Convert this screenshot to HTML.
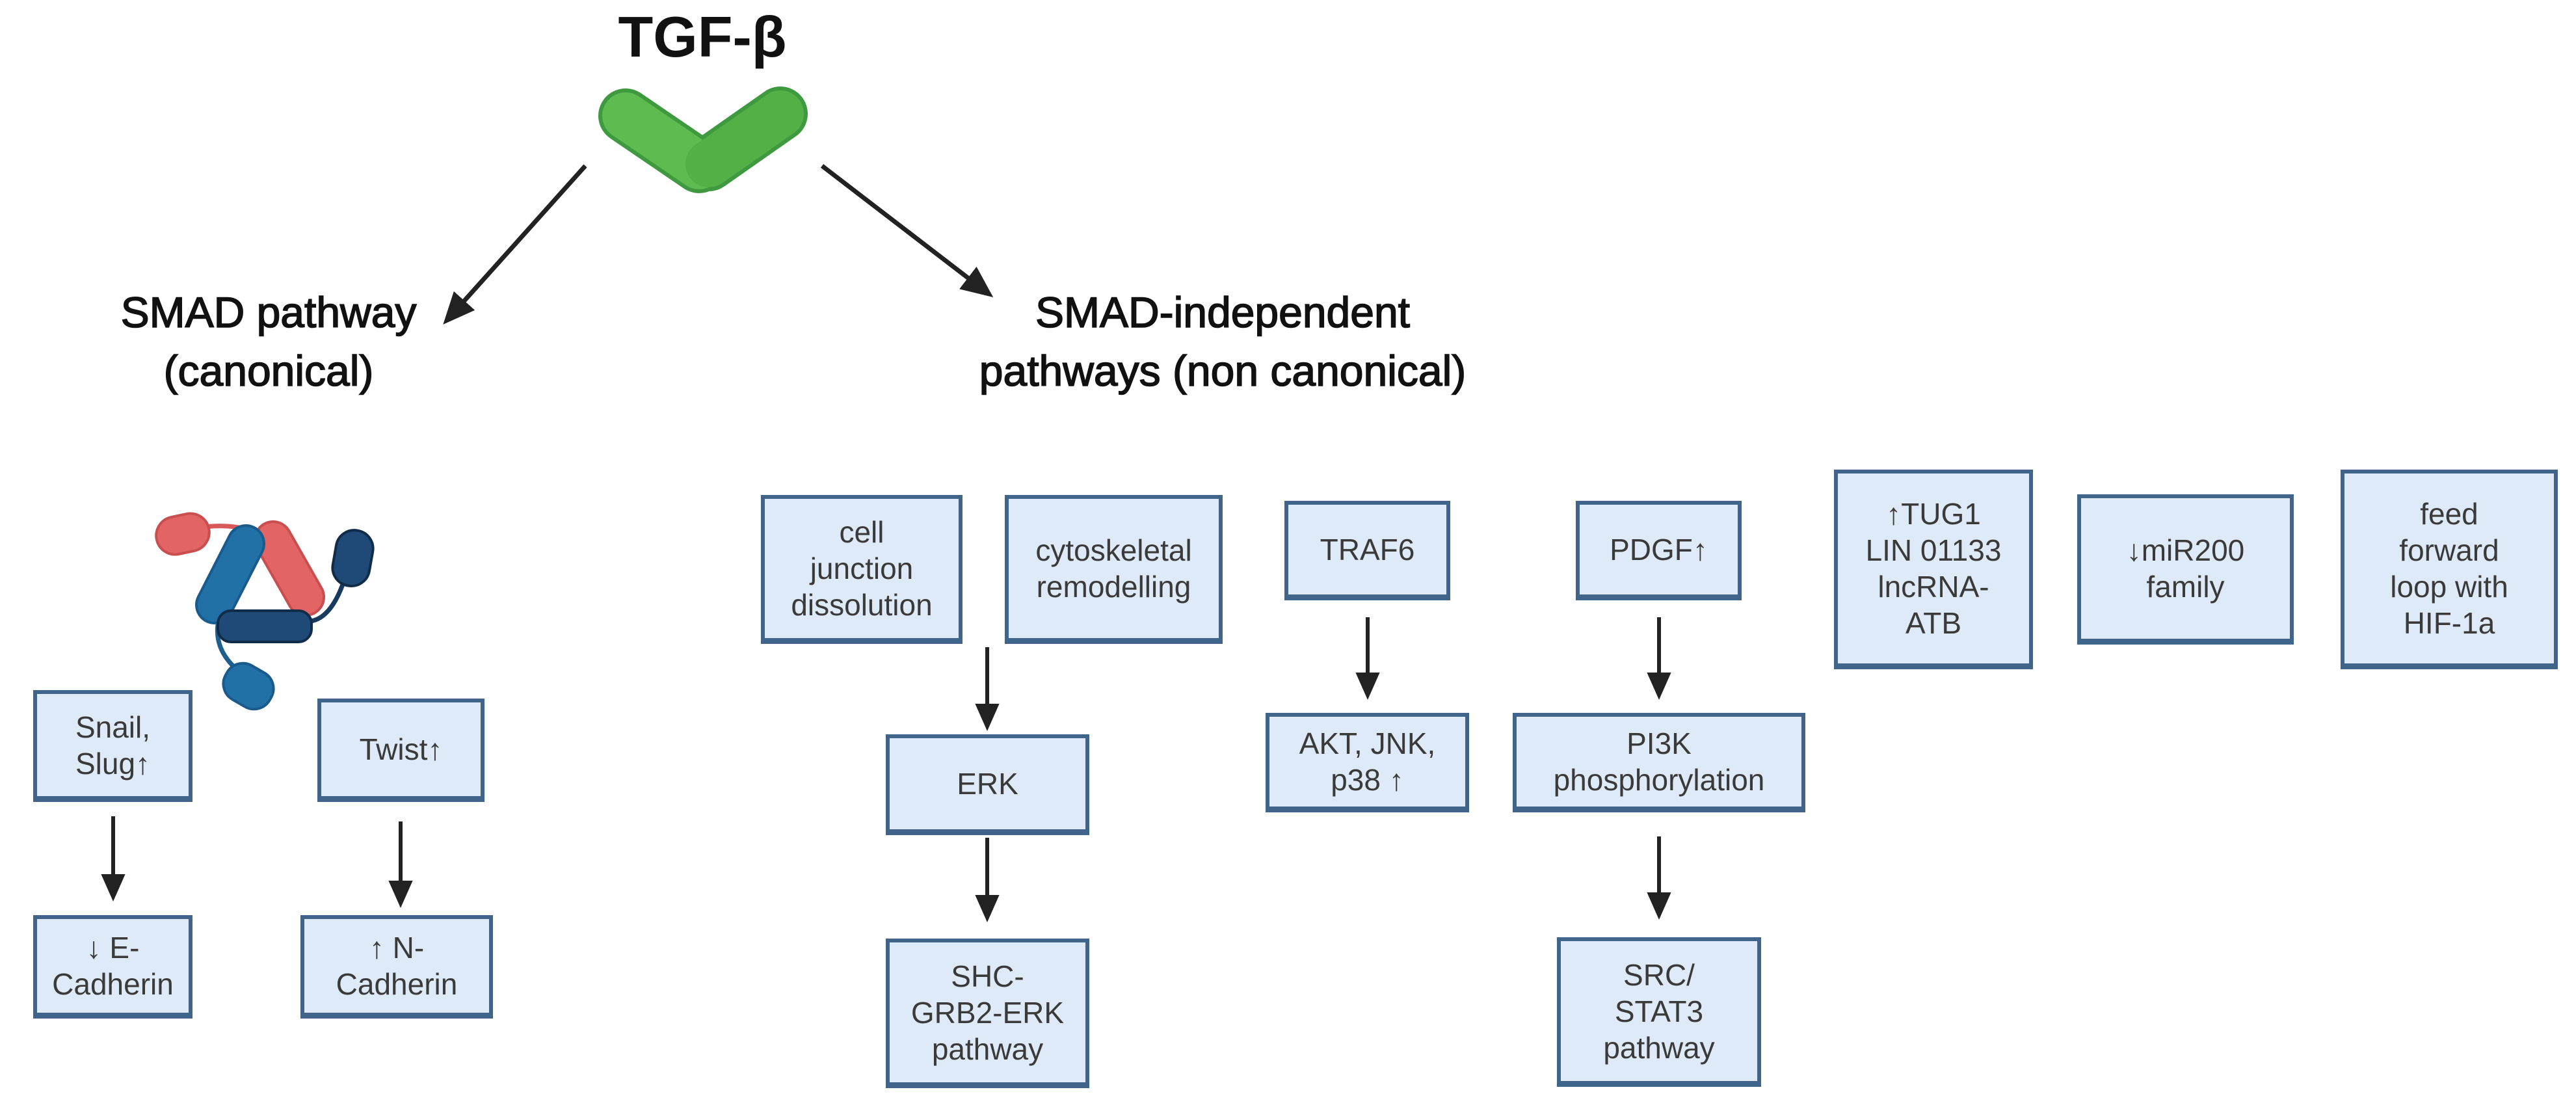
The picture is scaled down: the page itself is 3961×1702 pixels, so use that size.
<!DOCTYPE html>
<html><head><meta charset="utf-8">
<style>
html,body{margin:0;padding:0;background:#fff;}
#c{position:relative;width:3961px;height:1702px;overflow:hidden;background:#fff;font-family:"Liberation Sans",sans-serif;}
.b{position:absolute;box-sizing:border-box;background:#deeaf7;border:6px solid #41648a;border-bottom-width:9px;display:flex;align-items:center;justify-content:center;text-align:center;color:#3a3a3a;font-size:46px;line-height:56px;}
.t{position:absolute;text-align:center;color:#111;font-size:66px;line-height:90px;-webkit-text-stroke:1.6px #111;white-space:nowrap;}
svg{position:absolute;left:0;top:0;}
</style></head><body><div id="c">
<svg width="3961" height="1702">
<defs><marker id="a" markerWidth="7" markerHeight="7" refX="3" refY="3.5" orient="auto" markerUnits="strokeWidth"><path d="M0,0.4 L7,3.5 L0,6.6 Z" fill="#222"/></marker></defs>
<!-- green TGF -->
<line x1="962" y1="178" x2="1075" y2="255" stroke="#3f9a3f" stroke-width="84" stroke-linecap="round"/>
<line x1="1200" y1="175" x2="1090" y2="252" stroke="#3f9a3f" stroke-width="84" stroke-linecap="round"/>
<line x1="962" y1="178" x2="1075" y2="255" stroke="#5dbb50" stroke-width="72" stroke-linecap="round"/>
<line x1="1200" y1="175" x2="1090" y2="252" stroke="#52b046" stroke-width="72" stroke-linecap="round"/>
<!-- main arrows -->
<line x1="900" y1="255" x2="700" y2="478" stroke="#222" stroke-width="7" marker-end="url(#a)"/>
<line x1="1264" y1="255" x2="1505" y2="440" stroke="#222" stroke-width="7" marker-end="url(#a)"/>
<!-- SMAD icon -->
<g>
<path d="M300,812 Q370,800 420,830" stroke="#d9585a" stroke-width="7" fill="none"/>
<path d="M335,960 Q330,1000 365,1030" stroke="#1f5f8f" stroke-width="7" fill="none"/>
<path d="M478,955 Q510,950 530,890" stroke="#173a5e" stroke-width="7" fill="none"/>
<rect x="240" y="792" width="82" height="58" rx="29" fill="#e36464" stroke="#c94e50" stroke-width="4" transform="rotate(-12 281 821)"/>
<line x1="420" y1="830" x2="470" y2="918" stroke="#c94e50" stroke-width="60" stroke-linecap="round"/>
<line x1="420" y1="830" x2="470" y2="918" stroke="#e36464" stroke-width="52" stroke-linecap="round"/>
<line x1="378" y1="836" x2="330" y2="930" stroke="#185b8c" stroke-width="60" stroke-linecap="round"/>
<line x1="378" y1="836" x2="330" y2="930" stroke="#2170a6" stroke-width="52" stroke-linecap="round"/>
<rect x="335" y="939" width="144" height="48" rx="20" fill="#1f4a78" stroke="#112c48" stroke-width="4"/>
<rect x="514" y="815" width="57" height="86" rx="28" fill="#1f4a78" stroke="#112c48" stroke-width="4" transform="rotate(10 542 858)"/>
<rect x="343" y="1025" width="78" height="60" rx="28" fill="#2170a6" stroke="#185b8c" stroke-width="4" transform="rotate(30 382 1055)"/>
</g>
<!-- box arrows -->
<g stroke="#222" stroke-width="6" marker-end="url(#a)">
<line x1="174" y1="1255" x2="174" y2="1362"/>
<line x1="616" y1="1263" x2="616" y2="1372"/>
<line x1="1518" y1="995" x2="1518" y2="1100"/>
<line x1="1518" y1="1288" x2="1518" y2="1394"/>
<line x1="2103" y1="949" x2="2103" y2="1052"/>
<line x1="2551" y1="949" x2="2551" y2="1052"/>
<line x1="2551" y1="1286" x2="2551" y2="1390"/>
</g>
</svg>
<div class="t" style="left:880px;top:2px;width:400px;font-size:88px;line-height:110px;font-weight:bold;-webkit-text-stroke:0;">TGF-β</div>
<div class="t" style="left:113px;top:435px;width:600px;">SMAD pathway<br>(canonical)</div>
<div class="t" style="left:1480px;top:435px;width:800px;">SMAD-independent<br>pathways (non canonical)</div>

<div class="b" style="left:51px;top:1061px;width:245px;height:172px;">Snail,<br>Slug↑</div>
<div class="b" style="left:488px;top:1074px;width:257px;height:159px;">Twist↑</div>
<div class="b" style="left:51px;top:1407px;width:245px;height:159px;">↓ E-<br>Cadherin</div>
<div class="b" style="left:462px;top:1407px;width:296px;height:159px;">↑ N-<br>Cadherin</div>

<div class="b" style="left:1170px;top:761px;width:310px;height:229px;">cell<br>junction<br>dissolution</div>
<div class="b" style="left:1545px;top:761px;width:335px;height:229px;">cytoskeletal<br>remodelling</div>
<div class="b" style="left:1362px;top:1129px;width:313px;height:155px;">ERK</div>
<div class="b" style="left:1362px;top:1443px;width:313px;height:230px;">SHC-<br>GRB2-ERK<br>pathway</div>
<div class="b" style="left:1975px;top:770px;width:255px;height:153px;">TRAF6</div>
<div class="b" style="left:1946px;top:1096px;width:313px;height:153px;">AKT, JNK,<br>p38 ↑</div>
<div class="b" style="left:2423px;top:770px;width:255px;height:153px;">PDGF↑</div>
<div class="b" style="left:2326px;top:1096px;width:450px;height:153px;">PI3K<br>phosphorylation</div>
<div class="b" style="left:2394px;top:1441px;width:314px;height:230px;">SRC/<br>STAT3<br>pathway</div>
<div class="b" style="left:2820px;top:722px;width:306px;height:307px;">↑TUG1<br>LIN 01133<br>lncRNA-<br>ATB</div>
<div class="b" style="left:3194px;top:760px;width:333px;height:231px;">↓miR200<br>family</div>
<div class="b" style="left:3599px;top:722px;width:334px;height:307px;">feed<br>forward<br>loop with<br>HIF-1a</div>
</div></body></html>
